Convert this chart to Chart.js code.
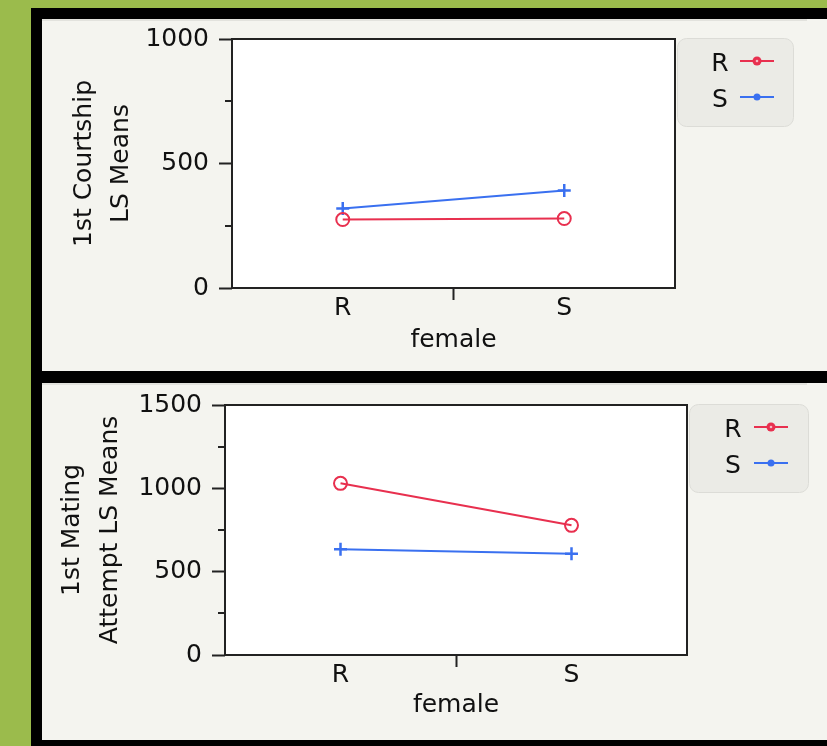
<!DOCTYPE html>
<html>
<head>
<meta charset="utf-8">
<script src="https://cdn.jsdelivr.net/npm/chart.js@4.4.0/dist/chart.umd.min.js"></script>
<style>
  html, body { margin: 0; padding: 0; }
  body { width: 827px; height: 746px; background: #9bbb4c; position: relative; overflow: hidden; }
  #frame { position: absolute; left: 31px; top: 8px; width: 796px; height: 738px; background: #000; }
  .panel { position: absolute; left: 42px; width: 785px; background: #f4f4ef; }
  .panel .rule { position: absolute; left: 0; top: 0; width: 765px; height: 2px; background: #e2e2dd; }
  .panel canvas { position: absolute; left: 0; top: 0; }
</style>
</head>
<body>
<div id="frame"></div>
<div class="panel" style="top:19px;height:352px"><div class="rule"></div><canvas id="courtship" width="785" height="352"></canvas></div>
<div class="panel" style="top:383px;height:357px"><div class="rule"></div><canvas id="mating" width="785" height="357"></canvas></div>
<script>
// female type on the x axis, male type as the series
var females = ['R', 'S'];
var males = ['R', 'S'];

// 1st Courtship LS Means
var courtshipR = [275, 279];
var courtshipS = [319, 392];
var courtshipTicks = [0, 500, 1000];

// 1st Mating Attempt LS Means
var matingR = [1030, 778];
var matingS = [634, 608];
var matingTicks = [0, 500, 1000, 1500];

var RED = '#e8304f';
var BLUE = '#3a70f0';
var INK = '#111';

Chart.defaults.font.family = '"DejaVu Sans"';
Chart.defaults.color = INK;

// white plot box with a dark frame
var plotBox = {
	id: 'plotBox',
	beforeDraw: function (chart) {
		var a = chart.chartArea;
		chart.ctx.save();
		chart.ctx.fillStyle = '#fff';
		chart.ctx.fillRect(a.left, a.top, a.right - a.left, a.bottom - a.top);
		chart.ctx.restore();
	},
	afterDraw: function (chart) {
		var a = chart.chartArea;
		var ctx = chart.ctx;
		ctx.save();
		ctx.strokeStyle = '#222';
		ctx.lineWidth = 2;
		ctx.strokeRect(a.left, a.top, a.right - a.left, a.bottom - a.top);
		// minor ticks on the value axis
		var y = chart.scales.y;
		y.ticks.forEach(function (t) {
			if (t.value % 500 !== 0) {
				var py = Math.round(y.getPixelForValue(t.value));
				ctx.beginPath();
				ctx.moveTo(a.left - 7, py);
				ctx.lineTo(a.left, py);
				ctx.stroke();
			}
		});
		ctx.restore();
	}
};

// legend in a rounded box, label first then line sample
var boxLegend = {
	id: 'boxLegend',
	afterDraw: function (chart, args, o) {
		var ctx = chart.ctx;
		ctx.save();
		ctx.beginPath();
		ctx.roundRect(o.x + 0.5, o.y + 0.5, o.w, o.h, 9);
		ctx.fillStyle = '#ebebe6';
		ctx.fill();
		ctx.strokeStyle = '#dcdcd7';
		ctx.lineWidth = 1;
		ctx.stroke();
		chart.data.datasets.forEach(function (ds, i) {
			var ly = o.y + o.rowTop + i * o.rowGap;
			ctx.fillStyle = INK;
			ctx.font = '25px "DejaVu Sans"';
			ctx.textAlign = 'center';
			ctx.textBaseline = 'middle';
			ctx.fillText(ds.label, o.x + o.textX, ly + 3);
			ctx.strokeStyle = ds.borderColor;
			ctx.lineWidth = 2;
			ctx.beginPath();
			ctx.moveTo(o.x + o.lineX, ly);
			ctx.lineTo(o.x + o.lineX + 34, ly);
			ctx.stroke();
			ctx.fillStyle = ds.borderColor;
			ctx.beginPath();
			ctx.arc(o.x + o.lineX + 17, ly, i === 0 ? 4.5 : 3.5, 0, Math.PI * 2);
			ctx.fill();
			if (i === 0) {
				ctx.fillStyle = '#f6b8c4';
				ctx.beginPath();
				ctx.arc(o.x + o.lineX + 17, ly, 1.3, 0, Math.PI * 2);
				ctx.fill();
			}
		});
		ctx.restore();
	}
};

function makeChart(id, rVals, sVals, yTicks, yTitle, lay) {
	var ctx = document.getElementById(id).getContext('2d');
	return new Chart(ctx, {
		type: 'line',
		data: {
			labels: females,
			datasets: [{
				label: males[0],
				data: rVals,
				borderColor: RED,
				borderWidth: 2,
				pointStyle: 'circle',
				pointRadius: 6.5,
				pointBorderWidth: 2,
				pointBackgroundColor: 'rgba(255,255,255,0)',
				pointBorderColor: RED,
				tension: 0
			}, {
				label: males[1],
				data: sVals,
				borderColor: BLUE,
				borderWidth: 2,
				pointStyle: 'cross',
				pointRadius: 6.5,
				pointBorderWidth: 2.5,
				pointBorderColor: BLUE,
				tension: 0
			}]
		},
		options: {
			responsive: false,
			animation: false,
			layout: { padding: { top: lay.top, right: lay.right, left: 0, bottom: 0 } },
			plugins: {
				legend: { display: false },
				tooltip: { enabled: false },
				boxLegend: lay.legend
			},
			scales: {
				x: {
					type: 'category',
					offset: true,
					border: { display: false },
					grid: {
						offset: true,
						drawOnChartArea: false,
						tickLength: 12,
						tickWidth: 2,
						tickColor: function (c) { return c.index === 1 ? '#222' : 'rgba(0,0,0,0)'; }
					},
					ticks: { font: { size: 25 }, padding: lay.xPad, color: INK },
					title: {
						display: true,
						text: 'female',
						font: { size: 25, lineHeight: 1.2 },
						padding: { top: 0, bottom: lay.xTitlePad },
						color: INK
					},
					afterFit: function (s) {
						s.height = lay.xHeight;
						s.paddingLeft = 0;
						s.paddingRight = 0;
					}
				},
				y: {
					min: yTicks[0],
					max: yTicks[yTicks.length - 1],
					border: { display: false },
					grid: {
						drawOnChartArea: false,
						tickLength: 13,
						tickWidth: 2,
						tickColor: function (c) { return c.tick && c.tick.value % 500 === 0 ? '#222' : 'rgba(0,0,0,0)'; }
					},
					ticks: {
						stepSize: 250,
						font: { size: 25 },
						padding: 10,
						color: INK,
						callback: function (v) { return yTicks.indexOf(v) >= 0 ? String(v) : ''; }
					},
					title: {
						display: true,
						text: yTitle,
						font: { size: 25, lineHeight: lay.yTitleLH },
						padding: { top: lay.yTitlePad, bottom: 0 },
						color: INK
					},
					afterFit: function (s) {
						s.width = lay.yWidth;
						s.paddingTop = 0;
						s.paddingBottom = 0;
					}
				}
			}
		},
		plugins: [plotBox, boxLegend]
	});
}

makeChart('courtship', courtshipR, courtshipS, courtshipTicks, ['1st Courtship', 'LS Means'], {
	top: 20, right: 152, yWidth: 190, xHeight: 83, xPad: -7, xTitlePad: 16,
	yTitleLH: 1.48, yTitlePad: 24,
	legend: { x: 635, y: 19, w: 116, h: 88, textX: 43, lineX: 63, rowTop: 23, rowGap: 36 }
});

makeChart('mating', matingR, matingS, matingTicks, ['1st Mating', 'Attempt LS Means'], {
	top: 22, right: 140, yWidth: 183, xHeight: 85, xPad: -7, xTitlePad: 20,
	yTitleLH: 1.52, yTitlePad: 11,
	legend: { x: 647, y: 21, w: 119, h: 88, textX: 44, lineX: 65, rowTop: 23, rowGap: 36 }
});
</script>
</body>
</html>
